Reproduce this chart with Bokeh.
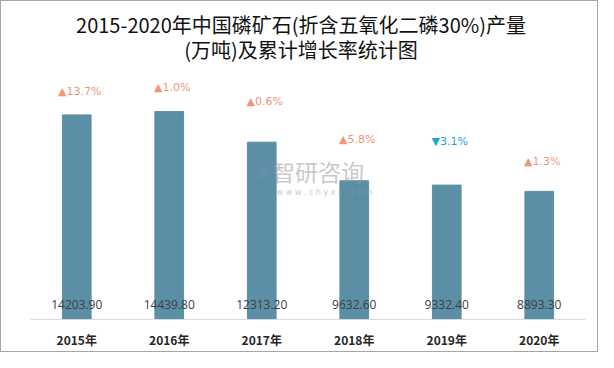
from bokeh.plotting import figure
from bokeh.models import ColumnDataSource, Label, FactorRange, Range1d
from bokeh.core.properties import value
from bokeh.embed import file_html
from bokeh.resources import INLINE

years = ["2015年", "2016年", "2017年", "2018年", "2019年", "2020年"]
production = [14203.90, 14439.80, 12313.20, 9632.60, 9332.40, 8893.30]
growth = [13.7, 1.0, 0.6, 5.8, -3.1, 1.3]
title_lines = ["2015-2020年中国磷矿石(折含五氧化二磷30%)产量", "(万吨)及累计增长率统计图"]

# pixel offsets of growth labels above bar tops (layout only)
growth_label_offsets = [23, 24, 41, 41, 44, 30]

up_color = "#F0967A"
down_color = "#1AA3DC"
bar_color = "#5B8FA6"

PX = 17220 / 248        # data units per pixel
FRAME_TOP = 10          # px from top of figure
FRAME_H = 308           # px
YMAX = FRAME_H * PX

src = ColumnDataSource(dict(
    x=years,
    top=production,
    val=["%.2f" % v for v in production],
    g=[("▲" if g >= 0 else "▼") + "%.1f%%" % abs(g) for g in growth],
    gc=[up_color if g >= 0 else down_color for g in growth],
    goff=[-o for o in growth_label_offsets],
))

p = figure(width=598, height=352, x_range=FactorRange(*years), y_range=Range1d(0, YMAX),
           output_backend="svg", toolbar_location=None,
           min_border_left=29, min_border_right=14, min_border_bottom=34, min_border_top=FRAME_TOP,
           styles={"border": "1px solid #a6a6a6"})

p.vbar(x="x", top="top", width=0.31, source=src, color=bar_color)

p.text(x="x", y=0, text="val", source=src, text_align="center", text_baseline="middle",
       y_offset=-15, text_font=value("Open Sans"), text_font_size="12px", text_color="#404040")

# growth labels
p.text(x="x", y="top", text="g", source=src, text_align="center", text_baseline="middle",
       y_offset={"field": "goff"}, x_offset=3,
       text_font=value("DejaVu Sans"), text_font_size="11px", text_color="gc")

# watermark
p.add_layout(Label(x=2.61, y=10300, text="智研咨询", text_font="Noto Sans CJK SC",
                   text_font_size="23px", text_color="#999999", text_alpha=0.55,
                   text_baseline="middle", text_align="left"))
p.add_layout(Label(x=2.41, y=10300, text="▣", text_font="DejaVu Sans",
                   text_font_size="20px", text_color="#6f8fb0", text_alpha=0.4,
                   text_baseline="middle", text_align="left"))
p.add_layout(Label(x=2.66, y=8800, text="w w w . c h y x x . c o m", text_font="DejaVu Sans",
                   text_font_size="8px", text_color="#999999", text_alpha=0.55,
                   text_baseline="middle", text_align="left"))

# title (two centered lines at the top)
for line, px_from_top in zip(title_lines, [23, 48]):
    p.add_layout(Label(x=len(years) / 2, y=YMAX - (px_from_top - FRAME_TOP) * PX, x_offset=-7,
                       text=line, text_font="Noto Sans CJK SC", text_font_size="20px",
                       text_color="#111111", text_align="center", text_baseline="middle"))

p.yaxis.visible = False
p.xgrid.visible = False
p.ygrid.visible = False
p.outline_line_color = None
p.xaxis.axis_line_color = "#d9d9d9"
p.xaxis.major_tick_line_color = None
p.xaxis.minor_tick_line_color = None
p.xaxis.major_label_text_font = "Noto Sans CJK SC"
p.xaxis.major_label_text_font_style = "bold"
p.xaxis.major_label_text_font_size = "12px"
p.xaxis.major_label_text_color = "#262626"
p.xaxis.major_label_standoff = 5
p.x_range.range_padding = 0
p.x_range.group_padding = 0
p.background_fill_color = "white"
p.border_fill_color = "white"

open("out.html", "w").write(file_html(p, INLINE))
